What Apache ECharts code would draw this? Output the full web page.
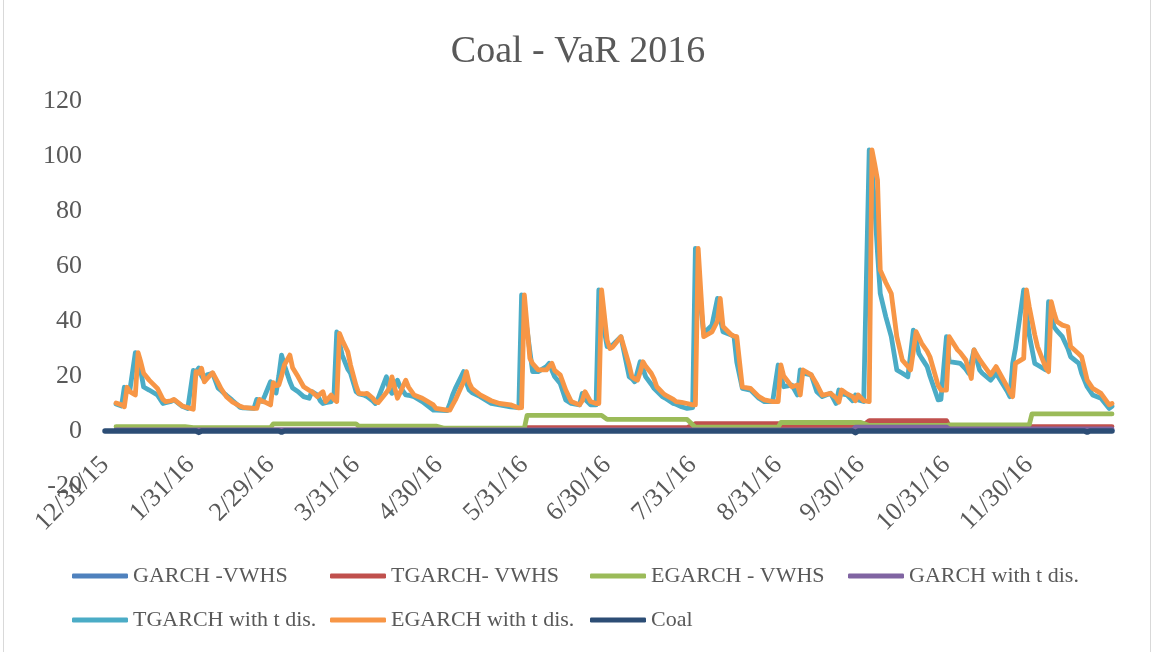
<!DOCTYPE html>
<html><head><meta charset="utf-8">
<script src="https://cdn.jsdelivr.net/npm/echarts@6/dist/echarts.min.js"></script>
<style>html,body{margin:0;padding:0;background:#fff}#c{width:1156px;height:652px}</style>
</head><body><div id="c"></div>
<script>
const titleText = 'Coal - VaR 2016';
const seriesNames = ['GARCH -VWHS','TGARCH- VWHS','EGARCH - VWHS','GARCH with t dis.','TGARCH with t dis.','EGARCH with t dis.','Coal'];
const seriesColors = ['#4F81BD','#C0504D','#9BBB59','#8064A2','#4BACC6','#F79646','#2C4D75'];
const tickDates = ['2015-12-31','2016-01-31','2016-02-29','2016-03-31','2016-04-30','2016-05-31','2016-06-30','2016-07-31','2016-08-31','2016-09-30','2016-10-31','2016-11-30'];
const tickLabels = ['12/31/15','1/31/16','2/29/16','3/31/16','4/30/16','5/31/16','6/30/16','7/31/16','8/31/16','9/30/16','10/31/16','11/30/16'];
const axisStart = '2015-12-31';
const axisEnd = '2016-12-30';

// TGARCH with t dis. / EGARCH with t dis.
const vDates = [
'2016-01-04','2016-01-06','2016-01-07','2016-01-08','2016-01-09','2016-01-11','2016-01-12','2016-01-13','2016-01-14','2016-01-16','2016-01-19','2016-01-21','2016-01-22','2016-01-24','2016-01-25','2016-01-28','2016-01-30',
'2016-02-01','2016-02-02','2016-02-03','2016-02-04','2016-02-05','2016-02-06','2016-02-08','2016-02-10','2016-02-11','2016-02-12','2016-02-13','2016-02-15','2016-02-18','2016-02-19','2016-02-23','2016-02-24','2016-02-25','2016-02-26','2016-02-27','2016-02-29',
'2016-03-01','2016-03-02','2016-03-03','2016-03-04','2016-03-05','2016-03-07','2016-03-08','2016-03-10','2016-03-12','2016-03-14','2016-03-15','2016-03-17','2016-03-18','2016-03-19','2016-03-20','2016-03-22','2016-03-23','2016-03-24','2016-03-25','2016-03-26','2016-03-28','2016-03-29','2016-03-31',
'2016-04-01','2016-04-03','2016-04-04','2016-04-06','2016-04-07','2016-04-08','2016-04-11','2016-04-12','2016-04-13','2016-04-15','2016-04-16','2016-04-18','2016-04-19','2016-04-21','2016-04-24','2016-04-28','2016-04-29',
'2016-05-03','2016-05-04','2016-05-05','2016-05-06','2016-05-09','2016-05-10','2016-05-11','2016-05-12','2016-05-15','2016-05-19','2016-05-22','2016-05-26','2016-05-29','2016-05-30','2016-05-31',
'2016-06-01','2016-06-02','2016-06-03','2016-06-05','2016-06-08','2016-06-09','2016-06-10','2016-06-11','2016-06-13','2016-06-15','2016-06-17','2016-06-20','2016-06-21','2016-06-22','2016-06-24','2016-06-26','2016-06-27','2016-06-28','2016-06-30',
'2016-07-01','2016-07-02','2016-07-05','2016-07-08','2016-07-09','2016-07-10','2016-07-11','2016-07-12','2016-07-13','2016-07-14','2016-07-16','2016-07-17','2016-07-18','2016-07-20','2016-07-21','2016-07-24','2016-07-25','2016-07-27','2016-07-29','2016-07-31',
'2016-08-01','2016-08-02','2016-08-03','2016-08-04','2016-08-07','2016-08-09','2016-08-10','2016-08-11','2016-08-14','2016-08-15','2016-08-16','2016-08-18','2016-08-21','2016-08-24','2016-08-26','2016-08-29','2016-08-31',
'2016-09-01','2016-09-02','2016-09-05','2016-09-07','2016-09-08','2016-09-09','2016-09-12','2016-09-14','2016-09-16','2016-09-19','2016-09-21','2016-09-22','2016-09-23','2016-09-25','2016-09-27','2016-09-28','2016-09-29',
'2016-10-01','2016-10-03','2016-10-04','2016-10-05','2016-10-06','2016-10-07','2016-10-09','2016-10-11','2016-10-13','2016-10-15','2016-10-17','2016-10-18','2016-10-19','2016-10-20','2016-10-21','2016-10-22','2016-10-24','2016-10-25','2016-10-28','2016-10-29','2016-10-31',
'2016-11-01','2016-11-04','2016-11-05','2016-11-07','2016-11-08','2016-11-09','2016-11-10','2016-11-12','2016-11-13','2016-11-16','2016-11-18','2016-11-22','2016-11-23','2016-11-24','2016-11-25','2016-11-28','2016-11-29','2016-11-30',
'2016-12-02','2016-12-03','2016-12-06','2016-12-07','2016-12-08','2016-12-09','2016-12-10','2016-12-12','2016-12-14','2016-12-15','2016-12-18','2016-12-19','2016-12-21','2016-12-23','2016-12-26','2016-12-29','2016-12-30'
];
const tgarchT = [
9.8,9.1,15.9,15.0,14.8,28.5,24.5,21.6,16.0,14.9,13.1,10.0,10.3,10.8,11.3,9.0,8.2,
22.0,21.6,22.9,20.0,18.5,20.4,21.0,15.6,14.8,13.8,13.0,11.3,8.6,8.4,8.2,11.5,11.0,10.7,13.0,17.9,
15.0,13.8,20.0,27.6,24.0,18.0,15.6,14.3,12.5,11.9,14.3,13.1,11.0,10.0,10.3,10.7,13.0,36.0,32.0,27.5,22.5,21.0,14.3,
13.5,13.0,12.5,11.0,10.0,11.9,19.7,15.5,13.7,18.5,16.0,13.1,13.0,12.5,10.7,7.6,7.6,
7.4,10.0,13.1,15.5,21.6,17.5,14.9,14.0,12.5,10.0,9.5,8.8,8.5,49.5,43.0,
36.7,29.0,21.6,21.6,23.4,24.6,22.0,19.7,17.3,11.3,10.0,9.5,13.7,11.5,9.5,9.5,51.3,42.0,30.7,
30.8,31.3,34.3,19.7,19.0,17.9,21.5,25.2,22.5,19.7,17.0,15.5,14.5,12.5,12.0,10.0,9.7,8.8,8.2,8.5,
66.4,56.0,45.0,35.5,38.5,48.2,41.0,36.1,34.9,34.3,25.0,15.5,14.9,11.9,10.7,10.7,24.0,
20.0,16.1,16.7,13.1,22.2,21.0,20.4,14.3,12.5,13.7,10.0,14.9,13.5,13.1,11.0,13.1,11.3,
10.7,102.2,95.0,81.6,65.0,50.0,41.6,34.3,22.2,21.0,19.7,28.0,36.7,33.0,28.2,26.5,23.4,20.0,11.3,11.5,34.3,
25.2,24.8,24.6,22.5,21.0,25.0,29.5,22.2,21.0,18.5,21.0,14.5,12.5,24.6,30.0,51.3,43.0,35.0,
24.6,24.0,22.2,47.0,42.0,37.9,36.5,34.3,30.0,27.0,24.6,21.0,16.1,13.1,11.9,8.2,9.0
];
const egarchT = [
10.2,9.5,8.8,15.9,14.3,13.1,28.5,25.0,21.0,18.5,15.5,11.5,10.7,11.0,11.5,9.1,8.5,
7.9,21.6,21.0,22.8,17.9,19.0,21.2,17.5,15.5,14.0,12.5,10.7,9.0,8.6,8.2,8.2,11.5,10.8,10.5,9.5,
17.6,16.5,16.7,20.0,24.0,27.6,23.0,19.7,16.1,14.8,14.3,12.5,13.5,14.3,10.7,13.1,11.5,10.7,35.5,33.0,28.8,24.0,16.5,
13.7,13.5,13.7,12.0,10.7,10.3,14.0,15.5,19.7,11.9,14.0,18.5,16.0,13.1,11.9,9.5,8.2,
7.6,7.6,9.5,11.3,18.0,21.6,17.5,15.5,13.1,11.0,10.0,9.5,8.4,8.5,49.5,
38.0,26.4,24.5,22.2,22.2,23.5,24.6,22.0,20.4,14.9,10.7,9.5,11.0,14.3,10.7,10.0,10.0,51.3,33.0,
30.0,30.5,34.3,24.0,19.7,19.0,18.5,21.5,25.2,23.5,21.0,19.0,16.1,14.0,13.1,11.5,10.7,10.4,10.0,9.5,
9.5,66.4,50.0,34.3,36.0,40.0,48.2,38.0,35.0,34.5,34.3,16.0,15.5,12.5,11.3,10.7,10.7,
24.0,20.0,16.1,16.7,13.1,22.2,20.4,17.0,13.0,13.7,12.0,10.5,14.9,13.5,12.5,11.0,13.1,
11.0,10.7,102.2,97.0,91.3,58.5,54.0,50.0,34.3,25.8,23.5,22.2,29.0,36.1,34.0,31.9,29.0,27.0,16.5,14.9,14.9,
34.3,29.5,28.5,25.8,22.5,19.1,29.5,26.0,24.6,20.4,23.4,16.1,14.0,12.5,24.6,26.4,51.3,45.2,
35.0,30.7,23.0,21.6,47.0,43.0,39.8,38.5,37.9,30.7,28.0,27.0,18.5,15.5,13.7,9.5,10.0
];

// low, near-flat series
const garchVwhsDates = ['2016-01-04','2016-12-30'];
const garchVwhs = [0.3, 0.3];
const tgarchVwhsDates = ['2016-01-04','2016-05-31','2016-06-01','2016-07-29','2016-08-01','2016-08-31','2016-09-01','2016-09-30','2016-10-03','2016-10-31','2016-11-01','2016-12-30'];
const tgarchVwhs = [0.3,0.3,1.2,1.2,2.7,2.7,1.5,1.5,3.8,3.8,1.6,1.6];
const egarchVwhsDates = ['2016-01-04','2016-01-29','2016-02-01','2016-02-29','2016-03-01','2016-03-31','2016-04-01','2016-04-29','2016-05-02','2016-05-31','2016-06-01','2016-06-28','2016-06-30','2016-07-29','2016-08-01','2016-08-31','2016-09-01','2016-09-30','2016-10-03','2016-10-31','2016-11-01','2016-11-30','2016-12-01','2016-12-30'];
const egarchVwhs = [1.6,1.6,1.2,1.2,2.6,2.6,1.8,1.8,1.0,1.0,5.7,5.7,4.2,4.2,1.4,1.4,3.1,3.1,2.0,2.0,2.2,2.2,6.2,6.2];
const garchTDates = ['2016-01-04','2016-09-27','2016-09-28','2016-10-31','2016-11-01','2016-12-30'];
const garchT = [0.4,0.4,1.4,1.4,0.8,0.8];
const coalDates = ['2015-12-31','2016-02-02','2016-02-03','2016-02-04','2016-03-03','2016-03-04','2016-03-05','2016-09-27','2016-09-28','2016-09-29','2016-12-20','2016-12-21','2016-12-22','2016-12-30'];
const coal = [0,0,-0.5,0,0,-0.4,0,0,-0.6,0,0,-0.4,0,0];

const yMin = -20, yMax = 120, yStep = 20;

function ts(s){ const p = s.split('-').map(Number); return new Date(p[0], p[1]-1, p[2]).getTime(); }
function pts(ds, vs){ return ds.map((d,i)=>[ts(d), vs[i]]); }

const seriesData = [
  pts(garchVwhsDates, garchVwhs),
  pts(tgarchVwhsDates, tgarchVwhs),
  pts(egarchVwhsDates, egarchVwhs),
  pts(garchTDates, garchT),
  pts(vDates, tgarchT),
  pts(vDates, egarchT),
  pts(coalDates, coal)
];
const tickTimes = tickDates.map(ts);
const FONT = 'Liberation Serif';
const GREY = '#595959';

const legendPos = [[72,564],[330,564],[590,564],[848,564],[72,608],[330,608],[590,608]];

const chart = echarts.init(document.getElementById('c'), null, {renderer:'canvas'});
chart.setOption({
  animation: false,
  backgroundColor: '#fff',
  color: seriesColors,
  title: { text: titleText, left: 'center', top: 28,
    textStyle: { fontFamily: FONT, fontSize: 38, fontWeight: 'normal', color: GREY } },
  legend: seriesNames.map((n,i)=>({
    data: [n], left: legendPos[i][0], top: legendPos[i][1], padding: 0,
    icon: 'roundRect', itemWidth: 56, itemHeight: 5,
    textStyle: { fontFamily: FONT, fontSize: 22, color: GREY, lineHeight: 24 },
    selectedMode: false
  })),
  grid: { left: 105, right: 44, top: 101, bottom: 166, containLabel: false },
  xAxis: {
    type: 'value', min: ts(axisStart), max: ts(axisEnd), scale: true,
    offset: -55,
    axisLine: { show: true, onZero: false, lineStyle: { color: '#d9d9d9' } },
    axisTick: { show: false },
    splitLine: { show: false },
    axisLabel: {
      customValues: tickTimes,
      rotate: 45, margin: 30,
      fontFamily: FONT, fontSize: 26, color: GREY,
      formatter: function(v){ const i = tickTimes.indexOf(v); return i >= 0 ? tickLabels[i] : ''; }
    }
  },
  yAxis: {
    type: 'value', min: yMin, max: yMax, interval: yStep,
    axisLine: { show: false }, axisTick: { show: false }, splitLine: { show: false },
    axisLabel: { margin: 23, fontFamily: FONT, fontSize: 26, color: GREY }
  },
  series: seriesNames.map((n,i)=>({
    name: n, type: 'line', data: seriesData[i],
    showSymbol: false, symbol: 'none',
    lineStyle: { width: i === 6 ? 5.5 : 4.8, color: seriesColors[i], cap: 'round', join: 'round' },
    itemStyle: { color: seriesColors[i] },
    emphasis: { disabled: true }
  })),
  graphic: [{ type: 'rect', shape: { x: 3.5, y: -2, width: 1147, height: 656 },
    style: { fill: 'none', stroke: '#d9d9d9', lineWidth: 1 }, silent: true }]
});
</script></body></html>
